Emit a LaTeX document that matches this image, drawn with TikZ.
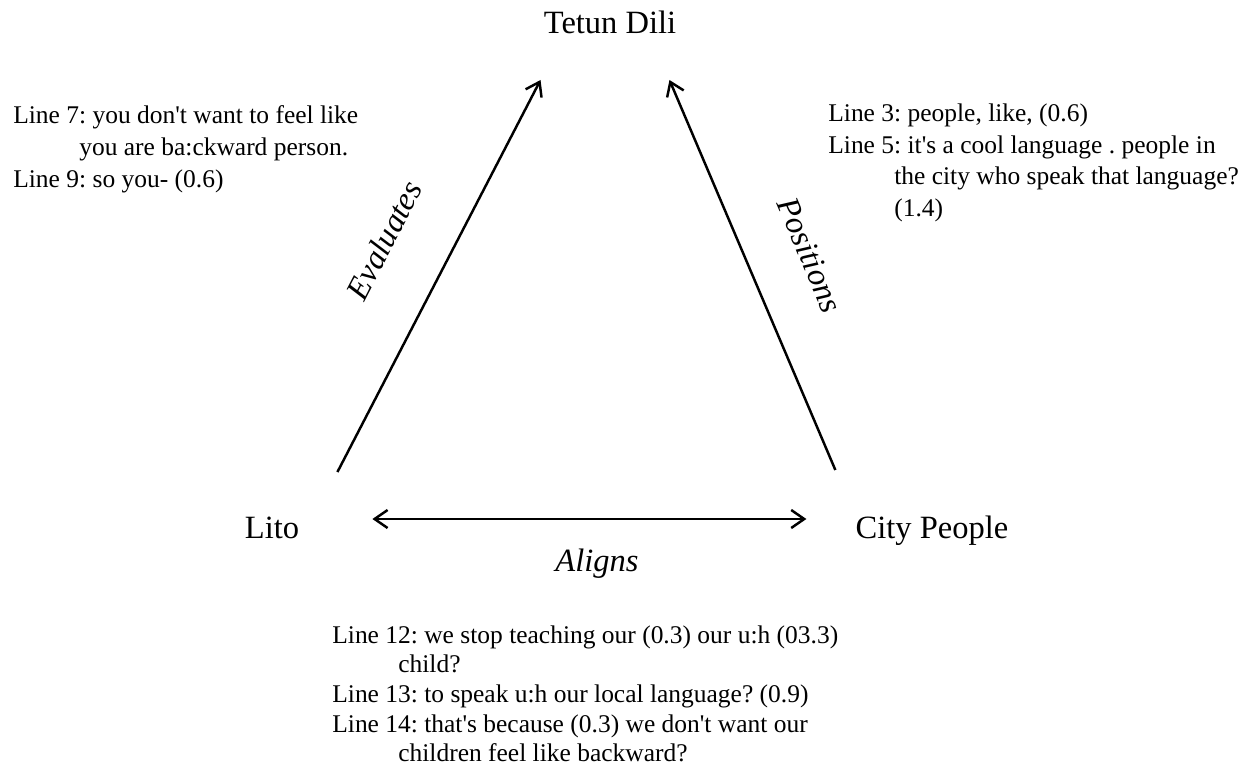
\documentclass[tikz,border=0pt]{standalone}
\usepackage{fontspec}
\setmainfont{Liberation Serif}[Ligatures=TeXOff]
\usetikzlibrary{arrows.meta}
\tikzset{
  party/.style={font=\fontsize{18.5}{22}\selectfont,inner sep=0pt,anchor=base},
  act/.style={font=\fontsize{18.5}{22}\selectfont\itshape,inner sep=0pt},
  quote/.style={font=\fontsize{14.5}{18.2}\selectfont,align=left,inner sep=0pt,anchor=north west},
  link/.style={line width=1.4pt,-{Straight Barb[length=2.6mm,width=3.6mm]}},
  both/.style={line width=1.4pt,{Straight Barb[length=2.6mm,width=3.6mm]}-{Straight Barb[length=2.6mm,width=3.6mm]}}
}
\newcommand{\hang}{\hspace*{1.32cm}}
\frenchspacing

\begin{document}
\begin{tikzpicture}[x=0.02cm,y=-0.02cm]
  \useasboundingbox (0,0) rectangle (1254,767);
  % the three parties
  \node[party] (tetun) at (610,34) {Tetun Dili};
  \node[party] (lito) at (272,538) {Lito};
  \node[party] (city) at (932,538) {City People};
  % relations
  \draw[link] ([xshift=0.76cm,yshift=1.32cm]lito.base east) -- ([xshift=-0.06cm,yshift=-0.92cm]tetun.base west);
  \draw[link] ([xshift=-0.4cm,yshift=1.36cm]city.base west) -- ([xshift=-0.14cm,yshift=-0.92cm]tetun.base east);
  \draw[both] ([xshift=1.46cm,yshift=0.38cm]lito.base east) -- ([xshift=-0.98cm,yshift=0.38cm]city.base west);
  \node[act,rotate=62.7] (evaluates) at (384,240) {Evaluates};
  \node[act,rotate=-67] (positions) at (810,255) {Positions};
  \node[act] (aligns) at (597,564) {Aligns};
  % transcript lines
  \node[quote] (lines-lito) at (13,105) {Line 7: you don't want to feel like\\
    \hang you are ba:ckward person.\\
    Line 9: so you- (0.6)};
  \node[quote] (lines-city) at (828,103) {Line 3: people, like, (0.6)\\
    Line 5: it's a cool language . people in\\
    \hang the city who speak that language?\\
    \hang (1.4)};
  \node[quote,font=\fontsize{14.5}{16.9}\selectfont] (lines-align) at (332,625) {Line 12: we stop teaching our (0.3) our u:h (03.3)\\
    \hang child?\\
    Line 13: to speak u:h our local language? (0.9)\\
    Line 14: that's because (0.3) we don't want our\\
    \hang children feel like backward?};
\end{tikzpicture}
\end{document}
